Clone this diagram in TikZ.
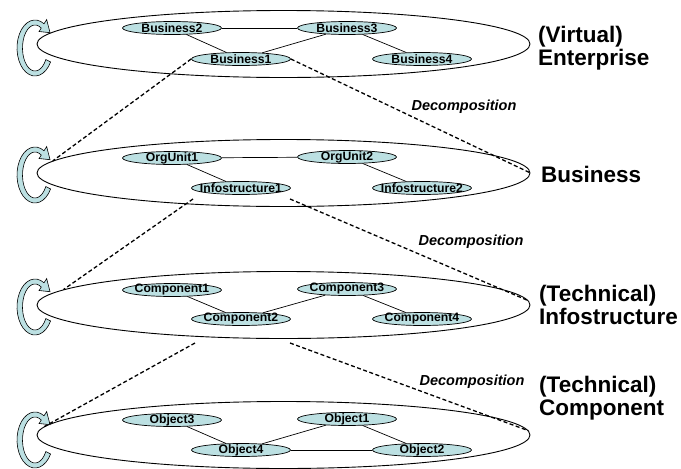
\documentclass[tikz,border=0pt]{standalone}
\usepackage{fontspec}
\setmainfont{Liberation Sans}
\usetikzlibrary{shapes.geometric}
\definecolor{pale}{RGB}{188,224,226}
\tikzset{
  cycarrow/.pic={
    \filldraw[fill=pale, draw=black, line width=0.6pt]
      (30:18 and 28) arc[start angle=30, end angle=300, x radius=18, y radius=28]
      -- (11.7,-28.4) -- (15,-15.3) -- (4.1,-16.5)
      -- (300:12.5 and 23) arc[start angle=300, end angle=30, x radius=12.5, y radius=23]
      -- cycle;
  }
}
\begin{document}
\begin{tikzpicture}[x=1pt,y=-1pt,
  layer/.style={draw=black, line width=0.9pt, ellipse, minimum width=493pt, minimum height=67pt, inner sep=0pt},
  elem/.style={draw=black, line width=0.7pt, fill=pale, ellipse, minimum width=99pt, minimum height=13pt, inner sep=0pt,
    label={[font=\fontsize{12.2}{13}\selectfont\bfseries, inner sep=0pt]center:#1}},
  link/.style={line width=0.7pt},
  decomp/.style={line width=1.3pt, dash pattern=on 4pt off 2.5pt},
  dlabel/.style={font=\fontsize{14.5}{16}\selectfont\bfseries\itshape, inner sep=0pt},
  level/.style={font=\fontsize{22.5}{22.5}\selectfont\bfseries, align=left, anchor=base west, inner sep=0pt}
]
\useasboundingbox (0,0) rectangle (681,469);

% layers
\node[layer] (L1) at (283.5,44) {};
\node[layer] (L2) at (283.5,173) {};
\node[layer] (L3) at (283.5,305) {};
\node[layer] (L4) at (283.5,435) {};

% cycle arrows
\pic at (35,48) {cycarrow};
\pic at (35,175) {cycarrow};
\pic at (35,307) {cycarrow};
\pic at (35,440) {cycarrow};

% layer 1
\node[elem=Business2] (b2) at (172,28) {};
\node[elem=Business3] (b3) at (347,28) {};
\node[elem=Business1] (b1) at (241,59) {};
\node[elem=Business4] (b4) at (422,59) {};
\draw[link] (b2) -- (b3);
\draw[link] (b2) -- (b1);
\draw[link] (b3) -- (b1);
\draw[link] (b3) -- (b4);

% layer 2
\node[elem=OrgUnit1] (o1) at (172,158) {};
\node[elem=OrgUnit2] (o2) at (347,157) {};
\node[elem=Infostructure1] (i1) at (241,188) {};
\node[elem=Infostructure2] (i2) at (422,188) {};
\draw[link] (o1) -- (o2);
\draw[link] (o1) -- (i1);
\draw[link] (o2) -- (i2);

% layer 3
\node[elem=Component1] (c1) at (172,290) {};
\node[elem=Component3] (c3) at (347,289) {};
\node[elem=Component2] (c2) at (241,319) {};
\node[elem=Component4] (c4) at (422,319) {};
\draw[link] (c1) -- (c2);
\draw[link] (c2) -- (c3);
\draw[link] (c3) -- (c4);

% layer 4
\node[elem=Object3] (ob3) at (172,420) {};
\node[elem=Object1] (ob1) at (347,419) {};
\node[elem=Object4] (ob4) at (241,450) {};
\node[elem=Object2] (ob2) at (422,450) {};
\draw[link] (ob3) -- (ob4);
\draw[link] (ob4) -- (ob1);
\draw[link] (ob1) -- (ob2);
\draw[link] (ob4) -- (ob2);

% decomposition connectors
\coordinate (s2l) at (193,199);
\coordinate (s2r) at (290,199);
\coordinate (s3l) at (195,343);
\coordinate (s3r) at (290,343);
\draw[decomp] (b1.west) -- (L2.177);
\draw[decomp] (b1.east) -- (L2.east);
\draw[decomp] (s2l) -- (L3.176.8);
\draw[decomp] (s2r) -- (L3.1.3);
\draw[decomp] (s3l) -- (L4.178);
\draw[decomp] (s3r) -- (L4.1.9);

\node[dlabel] (d1) at (464,107) {Decomposition};
\node[dlabel] (d2) at (471,242) {Decomposition};
\node[dlabel] (d3) at (472,382) {Decomposition};

% level labels (base = last line)
\node[level] (n1) at (538,65) {(Virtual)\\Enterprise};
\node[level] (n2) at (541,182) {Business};
\node[level] (n3) at (539,324) {(Technical)\\Infostructure};
\node[level] (n4) at (539,415) {(Technical)\\Component};
\end{tikzpicture}
\end{document}
